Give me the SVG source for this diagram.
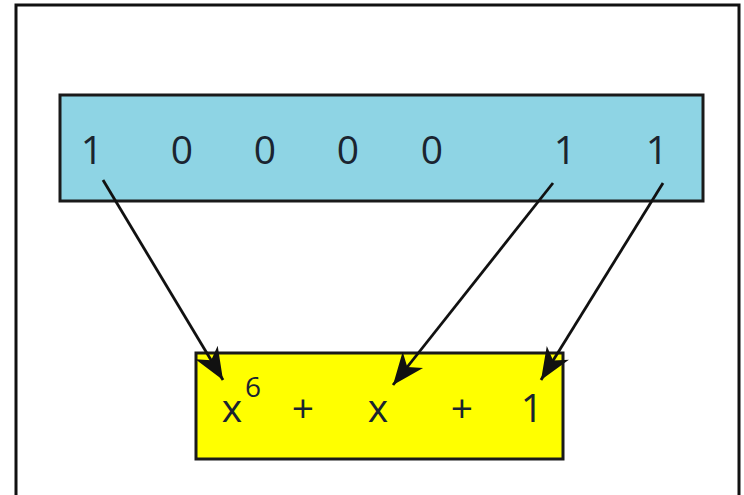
<svg xmlns="http://www.w3.org/2000/svg" width="744" height="495" viewBox="0 0 744 495">
<style>
.t{font-family:"Open Sans","Liberation Sans",sans-serif;font-size:39px;fill:#1a2430;text-anchor:middle}
.box{stroke:#1a1a1a;stroke-width:3}
.c{stroke:#111;stroke-width:2.8;fill:none}
</style>
<defs>
<marker id="ah" viewBox="-2 -16 36 32" refX="32" refY="0" markerWidth="36" markerHeight="32" markerUnits="userSpaceOnUse" orient="auto">
<path d="M0,-13 L32,0 L0,13 L9,0 Z" fill="#111"/>
</marker>
</defs>
<rect x="0" y="0" width="744" height="495" fill="#fff"/>
<path d="M16,497 V5 H739 V497" fill="none" stroke="#111" stroke-width="3"/>
<g id="bits">
<rect class="box" x="60" y="95" width="643" height="106" fill="#8ed4e4"/>
<text class="t" x="92" y="164">1</text>
<text class="t" x="182" y="164">0</text>
<text class="t" x="265" y="164">0</text>
<text class="t" x="348" y="164">0</text>
<text class="t" x="432" y="164">0</text>
<text class="t" x="565" y="164">1</text>
<text class="t" x="657" y="164">1</text>
</g>
<g id="poly">
<rect class="box" x="196" y="353" width="367" height="106" fill="#ffff00"/>
<text class="t" x="232" y="422">x</text>
<text class="t" x="253" y="397" style="font-size:28px">6</text>
<text class="t" x="303" y="422">+</text>
<text class="t" x="378" y="422">x</text>
<text class="t" x="462" y="422">+</text>
<text class="t" x="532" y="422">1</text>
</g>
<g id="connectors">
<line class="c" x1="103" y1="180" x2="223" y2="380" marker-end="url(#ah)"/>
<line class="c" x1="553" y1="183" x2="393" y2="385" marker-end="url(#ah)"/>
<line class="c" x1="663" y1="183" x2="541" y2="380" marker-end="url(#ah)"/>
</g>
</svg>
